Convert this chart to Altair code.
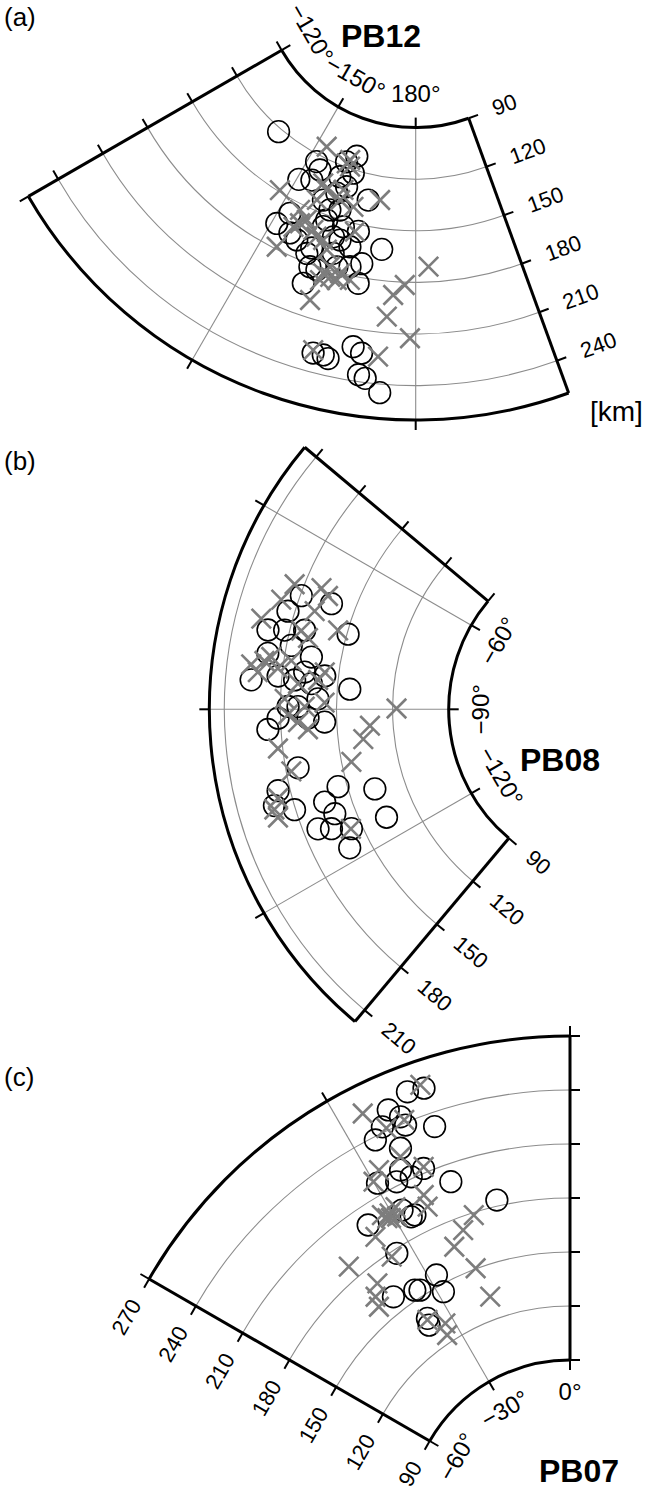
import altair as alt
import pandas as pd

# ---------------- data ----------------
# azimuth in degrees (clockwise from north), depth in km

# (a) PB12
A_CIRCLE_AZ = [220.8, 207.7, 197.8, 200.1, 209.5, 197.3, 191.8, 209.0, 205.8, 192.5, 187.0, 200.7,
               190.5, 199.9, 190.5, 198.4, 193.6, 195.1, 192.8, 189.5, 188.1, 188.1, 187.1, 184.9,
               199.7, 202.1, 197.7, 197.9, 199.8, 195.8, 199.8, 200.0, 204.0, 193.5, 196.4, 206.6,
               199.9, 195.9, 201.2, 195.0, 192.6, 197.3, 200.4, 205.9, 207.6]
A_CIRCLE_DEPTH = [122, 124, 112, 117, 138, 122, 135, 166.6, 168, 154, 162, 171,
                  172, 192, 183.6, 182, 228.6, 229, 230, 220.4, 223.4, 236, 237.6, 245,
                  136, 142.6, 144.8, 130.7, 152.7, 161.5, 181.6, 157, 170, 163.8, 170, 134.8,
                  146.6, 153.5, 175, 177, 175.1, 160.8, 126.5, 127.4, 157.8]
A_CROSS_AZ = [207.1, 199.9, 198.7, 212.0, 188.9, 204.8, 203.8, 205.7, 206.9, 197.8,
              195.7, 194.4, 197.1, 197.9, 193.2, 203.5, 198.4, 177.5, 182.0, 184.0,
              184.8, 180.9, 185.6, 195.2, 200.6, 196.3, 194.1, 192.1, 194.9, 203.7,
              206.0, 201.7, 199.1, 202.3, 198.4, 197.3, 199.3]
A_CROSS_DEPTH = [113.6, 117.8, 119, 149, 133.7, 160.4, 157, 163.9, 178.6, 169,
                 183.6, 184.4, 182.8, 199.9, 154.6, 144, 133, 171, 181.6, 187.8,
                 200.6, 212.5, 224.2, 227.3, 163.9, 178, 180.2, 182.6, 140.8, 133.7,
                 153.4, 160.9, 164.4, 136.5, 139.2, 187.1, 115.3]

# (b) PB08
B_CIRCLE_AZ = [-70.2, -73.4, -77.2, -74.4, -75.8, -85.4, -84.4, -83.2, -83.5, -85.7, -91.5,
               -93.3, -92.5, -100.4, -103.5, -105.7, -107.3, -107.6, -105.5, -110.3, -111.8,
               -112.7, -114.2, -117.4, -108.2, -115.1, -78.9, -80.3, -88.0, -89.5, -69.7,
               -76.6, -80.9, -84.8, -85.2, -89.5, -91.6]
B_CIRCLE_DEPTH = [179.4, 183.6, 191.4, 149.3, 172.3, 196.3, 182.1, 168.2, 157.3, 143.3, 181.3,
                  187, 156.5, 173.4, 186.4, 190.3, 180.6, 164, 154.8, 160.9, 172.2,
                  165.5, 155.7, 161, 136.3, 136.1, 177.5, 165.8, 160, 170.6, 162.8,
                  182.7, 189.1, 173.1, 164, 175.9, 165.3]
B_CROSS_AZ = [-68.8, -67.7, -68.6, -71.9, -72.0, -75.7, -74.2, -83.0, -82.2, -83.1, -84.1,
              -81.5, -82.8, -88.7, -90.9, -92.3, -96.6, -100.8, -106.3, -107.7, -89.8,
              -93.8, -96.7, -101.2, -114.2, -77.0, -85.4, -89.5,
              -81.4, -76.0, -88.2, -93.7, -84.4, -104.7]
B_CROSS_DEPTH = [184.9, 170.8, 166, 188.9, 170, 196.3, 155, 197.1, 190.3, 182.7, 193.1,
                 176.1, 157.5, 156.4, 176, 170.7, 182.5, 177.3, 190.9, 190.3, 117.9,
                 132.4, 136.6, 144.8, 156, 169.6, 171.1, 167,
                 187, 174, 177.8, 165.6, 160.6, 187.4]

# (c) PB07
C_CIRCLE_AZ = [-20.7, -18.6, -23.8, -22.7, -22.5, -25.4, -18.9, -27.0, -24.4, -22.5, -29.6,
               -27.0, -24.7, -19.3, -12.8, -26.8, -28.3, -34.2, -32.8, -28.4, -32.9, -28.8,
               -38.1, -35.0, -35.6, -33.8, -25.7, -27.5]
C_CIRCLE_DEPTH = [255.5, 254.3, 250.2, 244, 238.7, 243, 232.2, 238.2, 228, 212.6, 216.5,
                  212.1, 211.1, 200.3, 183.4, 191.1, 196.8, 199.5, 177.6, 156, 153.4, 146,
                  159, 138.1, 134.5, 155, 217, 191.1]
C_CROSS_AZ = [-18.9, -26.9, -25.0, -24.9, -28.5, -22.4, -30.0, -24.1, -24.3, -30.3, -29.5,
              -17.4, -20.1, -22.8, -20.4, -19.5, -34.3, -40.9, -38.9, -40.8, -41.6, -33.9,
              -35.2, -32.1, -33.3, -22.4, -31.0, -29.0, -31.5, -30.5]
C_CROSS_DEPTH = [256.7, 254.5, 241.4, 223.7, 222.4, 213.4, 218.3, 199, 192.2, 198.6, 195,
                 178.7, 172.7, 165.9, 150.4, 132.8, 191.8, 187.7, 170.4, 165.3, 159.9, 177.6,
                 137.4, 130.3, 124.3, 241.6, 197, 200, 200, 196]

# axis definitions (values / tick labels)
A_RINGS = [120, 150, 180, 210, 240]
A_DEPTH_TICKS = [90, 120, 150, 180, 210, 240]
A_GRID_AZ = [180, 210]
A_AZ_TICKS = [240, 210, 180]
A_AZ_LABELS = ["\u2212120\u00b0", "\u2212150\u00b0", "180\u00b0"]

B_RINGS = [120, 150, 180, 210]
B_DEPTH_TICKS = [90, 120, 150, 180, 210]
B_GRID_AZ = [-60, -90, -120]
B_AZ_TICKS = [-60, -90, -120]
B_AZ_LABELS = ["\u221260\u00b0", "\u221290\u00b0", "\u2212120\u00b0"]

C_RINGS = [120, 150, 180, 210, 240]
C_DEPTH_TICKS = [90, 120, 150, 180, 210, 240, 270]
C_GRID_AZ = [-30]
C_AZ_TICKS = [0, -30, -60]
C_AZ_LABELS = ["0\u00b0", "\u221230\u00b0", "\u221260\u00b0"]

# ---------------- layout (pixel placement of each polar panel) ----------------
PANELS = [
    dict(key="a", title="PB12", tag="(a)", cx=415.7, cy=-27.2, k=1.72, az_min=160, az_max=240,
         d_in=90, d_out=260, rings=A_RINGS, grid=A_GRID_AZ, az_ticks=A_AZ_TICKS,
         az_labels=A_AZ_LABELS, depth_ticks=A_DEPTH_TICKS, inward=False,
         circ=(A_CIRCLE_AZ, A_CIRCLE_DEPTH), cross=(A_CROSS_AZ, A_CROSS_DEPTH),
         title_xy=(381, 47), tag_xy=(4, 18)),
    dict(key="b", title="PB08", tag="(b)", cx=617.0, cy=709.3, k=1.87, az_min=-140, az_max=-50,
         d_in=90, d_out=218, rings=B_RINGS, grid=B_GRID_AZ, az_ticks=B_AZ_TICKS,
         az_labels=B_AZ_LABELS, depth_ticks=B_DEPTH_TICKS, inward=False,
         circ=(B_CIRCLE_AZ, B_CIRCLE_DEPTH), cross=(B_CROSS_AZ, B_CROSS_DEPTH),
         title_xy=(560, 771), tag_xy=(4, 462)),
    dict(key="c", title="PB07", tag="(c)", cx=570.0, cy=1522.0, k=1.80, az_min=-60, az_max=0,
         d_in=90, d_out=270, rings=C_RINGS, grid=C_GRID_AZ, az_ticks=C_AZ_TICKS,
         az_labels=C_AZ_LABELS, depth_ticks=C_DEPTH_TICKS, inward=True,
         circ=(C_CIRCLE_AZ, C_CIRCLE_DEPTH), cross=(C_CROSS_AZ, C_CROSS_DEPTH),
         title_xy=(579, 1482), tag_xy=(4, 1078)),
]

W, H = 661, 1488
TICK = 10
LABEL_GAP = 26
AZ_LABEL_GAP = 33
FONT = "Liberation Sans"

# ---------------- tables ----------------
arc_rows, rad_rows, etick_rows, dlab_rows, azlab_rows, pt_rows, txt_rows = [], [], [], [], [], [], []
for p in PANELS:
    g = dict(cx=p["cx"], cy=p["cy"], k=p["k"])
    for d in p["rings"]:
        arc_rows.append(dict(g, a0=p["az_min"], a1=p["az_max"], d=d, kind="grid"))
    for d in (p["d_in"], p["d_out"]):
        arc_rows.append(dict(g, a0=p["az_min"], a1=p["az_max"], d=d, kind="frame"))
    for a in p["grid"]:
        rad_rows.append(dict(g, az=a, ds=p["d_in"], de=p["d_out"], es=0, ee=0, kind="grid"))
    for a in (p["az_min"], p["az_max"]):
        rad_rows.append(dict(g, az=a, ds=p["d_in"], de=p["d_out"], es=0, ee=0, kind="frame"))
    for a in p["az_ticks"]:
        rad_rows.append(dict(g, az=a, ds=p["d_in"], de=p["d_in"], es=0, ee=-TICK, kind="tick"))
        rad_rows.append(dict(g, az=a, ds=p["d_out"], de=p["d_out"], es=0, ee=TICK, kind="tick"))
    for d in p["depth_ticks"]:
        etick_rows.append(dict(g, az=p["az_min"], d=d, s=-1))
        etick_rows.append(dict(g, az=p["az_max"], d=d, s=1))
        dlab_rows.append(dict(g, az=p["az_min"], d=d, text=str(d),
                              inward=p["inward"]))
    for a, t in zip(p["az_ticks"], p["az_labels"]):
        azlab_rows.append(dict(g, az=a, d=p["d_in"], text=t))
    for a, d in zip(*p["circ"]):
        pt_rows.append(dict(g, az=a, dep=d, kind="circle"))
    for a, d in zip(*p["cross"]):
        pt_rows.append(dict(g, az=a, dep=d, kind="cross"))
    txt_rows.append(dict(x=p["title_xy"][0], y=p["title_xy"][1], text=p["title"], kind="title"))
    txt_rows.append(dict(x=p["tag_xy"][0], y=p["tag_xy"][1], text=p["tag"], kind="tag"))
txt_rows.append(dict(x=590, y=421, text="[km]", kind="unit"))

arcs = pd.DataFrame(arc_rows)
rads = pd.DataFrame(rad_rows)
eticks = pd.DataFrame(etick_rows)
dlabs = pd.DataFrame(dlab_rows)
azlabs = pd.DataFrame(azlab_rows)
pts = pd.DataFrame(pt_rows)
txts = pd.DataFrame(txt_rows)

XS = alt.Scale(domain=[0, W], nice=False, zero=False)
YS = alt.Scale(domain=[0, H], nice=False, zero=False, reverse=True)


def X(f):
    return alt.X(f + ":Q", scale=XS, axis=None)


def Y(f):
    return alt.Y(f + ":Q", scale=YS, axis=None)


RAD = "PI/180"


def arc_layer(kind, color, width):
    return alt.Chart(arcs).transform_filter(alt.datum.kind == kind).transform_calculate(
        t0=f"datum.a0*{RAD}", t1=f"datum.a1*{RAD}", r="datum.k*datum.d"
    ).mark_arc(filled=False, stroke=color, strokeWidth=width).encode(
        x=X("cx"), y=Y("cy"),
        theta=alt.Theta("t0:Q", scale=None), theta2=alt.Theta2("t1:Q"),
        radius=alt.Radius("r:Q", scale=None), radius2=alt.Radius2("r:Q"),
    )


def rad_layer(kind, color, width):
    return alt.Chart(rads).transform_filter(alt.datum.kind == kind).transform_calculate(
        rs="datum.k*datum.ds+datum.es", re="datum.k*datum.de+datum.ee",
    ).transform_calculate(
        x1=f"datum.cx+datum.rs*sin(datum.az*{RAD})", y1=f"datum.cy-datum.rs*cos(datum.az*{RAD})",
        x2=f"datum.cx+datum.re*sin(datum.az*{RAD})", y2=f"datum.cy-datum.re*cos(datum.az*{RAD})",
    ).mark_rule(color=color, strokeWidth=width).encode(
        x=X("x1"), y=Y("y1"), x2=alt.X2("x2:Q"), y2=alt.Y2("y2:Q")
    )


etick_layer = alt.Chart(eticks).transform_calculate(
    x1=f"datum.cx+datum.k*datum.d*sin(datum.az*{RAD})",
    y1=f"datum.cy-datum.k*datum.d*cos(datum.az*{RAD})",
).transform_calculate(
    x2=f"datum.x1+datum.s*{TICK}*cos(datum.az*{RAD})",
    y2=f"datum.y1+datum.s*{TICK}*sin(datum.az*{RAD})",
).mark_rule(color="black", strokeWidth=2).encode(
    x=X("x1"), y=Y("y1"), x2=alt.X2("x2:Q"), y2=alt.Y2("y2:Q")
)


def dlab_layer(inward):
    ang = ("(atan2(sin(datum.az*PI/180), cos(datum.az*PI/180))*180/PI+360)%360" if inward
           else "(atan2(-sin(datum.az*PI/180), -cos(datum.az*PI/180))*180/PI+360)%360")
    return alt.Chart(dlabs).transform_filter(alt.datum.inward == inward).transform_calculate(
        x=f"datum.cx+datum.k*datum.d*sin(datum.az*{RAD})-{LABEL_GAP}*cos(datum.az*{RAD})",
        y=f"datum.cy-datum.k*datum.d*cos(datum.az*{RAD})-{LABEL_GAP}*sin(datum.az*{RAD})",
        ang=ang,
    ).mark_text(font=FONT, fontSize=22, color="black", align="right" if inward else "left",
                baseline="middle").encode(
        x=X("x"), y=Y("y"), text="text:N", angle=alt.Angle("ang:Q", scale=None)
    )


azlab_layer = alt.Chart(azlabs).transform_calculate(
    rr=f"datum.k*datum.d-{AZ_LABEL_GAP}",
    ang="(((datum.az+90)%180+180)%180-90+360)%360",
).transform_calculate(
    x=f"datum.cx+datum.rr*sin(datum.az*{RAD})",
    y=f"datum.cy-datum.rr*cos(datum.az*{RAD})",
).mark_text(font=FONT, fontSize=24, color="black", align="center", baseline="middle").encode(
    x=X("x"), y=Y("y"), text="text:N", angle=alt.Angle("ang:Q", scale=None)
)


def pt_layer(kind, **mk):
    return alt.Chart(pts).transform_filter(alt.datum.kind == kind).transform_calculate(
        x=f"datum.cx+datum.k*datum.dep*sin(datum.az*{RAD})",
        y=f"datum.cy-datum.k*datum.dep*cos(datum.az*{RAD})",
    ).mark_point(**mk).encode(x=X("x"), y=Y("y"))


circles = pt_layer("circle", shape="circle", filled=False, stroke="black", strokeWidth=1.6,
                   size=470, opacity=1)
crosses = pt_layer("cross", shape="M-1,-1L1,1M1,-1L-1,1", filled=False, stroke="#7d7d7d",
                   strokeWidth=2.6, size=380, opacity=1)

titles = alt.Chart(txts).transform_filter(alt.datum.kind == "title").mark_text(
    font=FONT, fontSize=32, fontWeight="bold", color="black", align="center",
    baseline="alphabetic").encode(x=X("x"), y=Y("y"), text="text:N")
tags = alt.Chart(txts).transform_filter(alt.datum.kind == "tag").mark_text(
    font=FONT, fontSize=26, color="black", align="left", baseline="middle").encode(
    x=X("x"), y=Y("y"), text="text:N")
unit = alt.Chart(txts).transform_filter(alt.datum.kind == "unit").mark_text(
    font=FONT, fontSize=28, color="black", align="left", baseline="alphabetic").encode(
    x=X("x"), y=Y("y"), text="text:N")

chart = alt.layer(
    arc_layer("grid", "#8c8c8c", 1.1),
    rad_layer("grid", "#8c8c8c", 1.1),
    circles,
    crosses,
    arc_layer("frame", "black", 3),
    rad_layer("frame", "black", 3),
    rad_layer("tick", "black", 2),
    etick_layer,
    dlab_layer(False),
    dlab_layer(True),
    azlab_layer,
    titles,
    tags,
    unit,
).properties(
    width=W, height=H, autosize=alt.AutoSizeParams(type="none"), padding=0,
    background="white",
).configure_view(strokeWidth=0)

chart.save("out.html", embed_options={"renderer": "svg", "actions": False})
